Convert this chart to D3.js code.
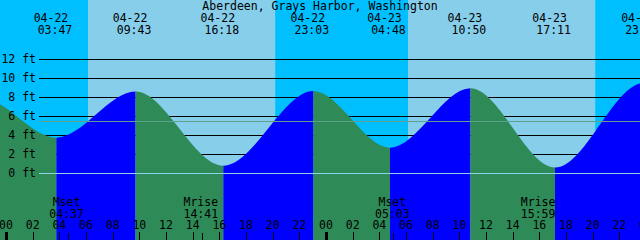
<!DOCTYPE html>
<html>
<head>
<meta charset="utf-8">
<script src="https://cdn.jsdelivr.net/npm/d3@7"></script>
<style>
  body { margin: 0; background: #fff; }
  svg { display: block; }
  text { font-family: "DejaVu Sans Mono", monospace; font-size: 11.5px; fill: #000; }
</style>
</head>
<body>
<svg id="chart" width="640" height="240"></svg>
<script>
// tide chart data
const title = "Aberdeen, Grays Harbor, Washington";

// high / low tide extremes (first two and last one lie outside the window)
const tideDates = ["04-21", "04-21", "04-22", "04-22", "04-22", "04-22", "04-23", "04-23", "04-23", "04-23", "04-24"];
const tideTimes = ["15:50", "22:10", "03:47", "09:43", "16:18", "23:03", "04:48", "10:50", "17:11", "23:51", "06:05"];
const tideHeights = [1.2, 7.9, 3.75, 8.6, 0.8, 8.66, 2.7, 8.95, 0.6, 9.5, 2.4];

// sunrise / sunset
const sunDates = ["04-22", "04-22", "04-23", "04-23"];
const sunTimes = ["06:09", "20:11", "06:09", "20:11"];

// moon events
const moonNames = ["Mset", "Mrise", "Mset", "Mrise"];
const moonDates = ["04-22", "04-22", "04-23", "04-23"];
const moonTimes = ["04:37", "14:41", "05:03", "15:59"];

const hourTicks = d3.range(0, 50, 2);
const levelTicks = [0, 2, 4, 6, 8, 10, 12];
const meanLevel = 5.55;

const W = 640, H = 240;
const svg = d3.select('#chart');

// hours since 04-22 00:00
function toHours(date, time) {
  const day = +date.slice(3) - 22;
  const [hh, mm] = time.split(':').map(Number);
  return day * 24 + hh + mm / 60;
}

const x = d3.scaleLinear().domain([0, 48]).range([6, 6 + 48 * 13.333]);
const y = d3.scaleLinear().domain([0, 12]).range([173.3, 59.3]);

const tides = tideTimes.map((t, i) => ({
  t: toHours(tideDates[i], t), h: tideHeights[i], date: tideDates[i], time: t
}));

// sky bands: night / day
const sunX = sunTimes.map((t, i) => x(toHours(sunDates[i], t)));
const edges = [0, ...sunX, W];
svg.append('g').selectAll('rect')
  .data(d3.pairs(edges))
  .enter().append('rect')
  .attr('x', d => d[0])
  .attr('y', 0)
  .attr('width', d => d[1] - d[0])
  .attr('height', H)
  .attr('fill', (d, i) => i % 2 ? '#87CEEB' : '#00BFFF');

// black grid lines behind the water
svg.append('g').selectAll('line')
  .data(levelTicks.filter(v => v > 0))
  .enter().append('line')
  .attr('x1', 39).attr('x2', W)
  .attr('y1', d => Math.round(y(d)) + 0.5)
  .attr('y2', d => Math.round(y(d)) + 0.5)
  .attr('stroke', '#000');

// tide area, rising blue, falling green
const area = d3.area()
  .x(d => x(d.t))
  .y0(H)
  .y1(d => y(d.h))
  .curve(d3.curveMonotoneX);

const defs = svg.append('defs');
d3.pairs(tides).forEach((p, i) => {
  defs.append('clipPath').attr('id', 'seg' + i)
    .append('rect')
    .attr('x', x(p[0].t)).attr('y', 0)
    .attr('width', x(p[1].t) - x(p[0].t)).attr('height', H);
  svg.append('path')
    .datum(tides)
    .attr('d', area)
    .attr('clip-path', `url(#seg${i})`)
    .attr('fill', p[1].h > p[0].h ? '#0000FF' : '#2E8B57');
});

// zero and mean lines on top
svg.append('line')
  .attr('x1', 39).attr('x2', W)
  .attr('y1', Math.round(y(0)) + 0.5).attr('y2', Math.round(y(0)) + 0.5)
  .attr('stroke', '#8fd3ea');
svg.append('line')
  .attr('x1', 39).attr('x2', W)
  .attr('y1', Math.round(y(meanLevel)) + 0.5).attr('y2', Math.round(y(meanLevel)) + 0.5)
  .attr('stroke', '#5fa08c');

// level labels
svg.append('g').selectAll('text')
  .data(levelTicks)
  .enter().append('text')
  .attr('x', 36)
  .attr('y', d => y(d) + 3.5)
  .attr('text-anchor', 'end')
  .text(d => d + ' ft');

// title
svg.append('text')
  .attr('x', W / 2).attr('y', 10)
  .attr('text-anchor', 'middle')
  .text(title);

// high / low labels along the top (only those that reach the window)
const tideLabels = svg.append('g').selectAll('g')
  .data(tides.filter(d => x(d.t) > 0 && x(d.t) < W + 30))
  .enter().append('g');
tideLabels.append('text')
  .attr('x', d => x(d.t) - 5.5).attr('y', 21.7)
  .attr('text-anchor', 'middle')
  .text(d => d.date);
tideLabels.append('text')
  .attr('x', d => x(d.t) - 1.5).attr('y', 34)
  .attr('text-anchor', 'middle')
  .text(d => d.time);

// moon labels and ticks
const moon = moonNames.map((n, i) => ({ name: n, time: moonTimes[i], t: toHours(moonDates[i], moonTimes[i]) }));
const moonG = svg.append('g').selectAll('g').data(moon).enter().append('g');
moonG.append('text')
  .attr('x', d => x(d.t) - 1).attr('y', 206)
  .attr('text-anchor', 'middle')
  .text(d => d.name);
moonG.append('text')
  .attr('x', d => x(d.t) - 1).attr('y', 217.7)
  .attr('text-anchor', 'middle')
  .text(d => d.time);
moonG.append('line')
  .attr('x1', d => Math.round(x(d.t)) + 0.5).attr('x2', d => Math.round(x(d.t)) + 0.5)
  .attr('y1', 233).attr('y2', H)
  .attr('stroke', '#000');

// hour axis
const hourG = svg.append('g').selectAll('g').data(hourTicks).enter().append('g');
hourG.append('line')
  .attr('x1', d => Math.round(x(d)) + 0.5).attr('x2', d => Math.round(x(d)) + 0.5)
  .attr('y1', 232).attr('y2', H)
  .attr('stroke', '#000')
  .attr('stroke-width', d => d % 24 === 0 ? 3 : 1);
hourG.append('text')
  .attr('x', d => x(d)).attr('y', 229.3)
  .attr('text-anchor', 'middle')
  .text(d => d3.format('02d')(d % 24));
</script>
</body>
</html>
